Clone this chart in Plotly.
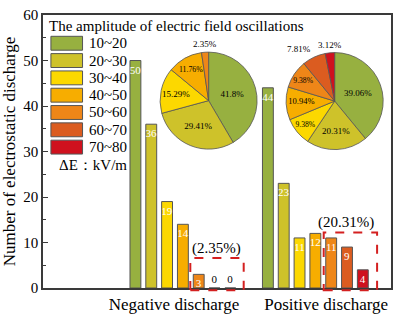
import math
import plotly.graph_objects as go

# ---- data -------------------------------------------------------------
ranges = ["10~20", "20~30", "30~40", "40~50", "50~60", "60~70", "70~80"]
colors = ["#97b040", "#cec22a", "#fcd800", "#f7ad00", "#ee8618", "#db5c20", "#cf111e"]
groups = ["Negative discharge", "Positive discharge"]
negative_counts = [50, 36, 19, 14, 3, 0, 0]
positive_counts = [44, 23, 11, 12, 11, 9, 4]

negative_share = [41.8, 29.41, 15.29, 11.76, 2.35]
positive_share = [39.06, 20.31, 9.38, 10.94, 9.38, 7.81, 3.12]
highlight_labels = ["(2.35%)", "(20.31%)"]

# ---- geometry helpers -------------------------------------------------
W, H = 400, 321
L, R, T, B = 41, 393, 7, 294
XR = [-1.056, 1.571]
YR = [0, 60]
FONT = "Liberation Serif, Times New Roman, serif"


def px_x(p):
    return (p - L) / (R - L)


def px_y(p):
    return (B - p) / (B - T)


def dx(x):
    return (x - XR[0]) / (XR[1] - XR[0])


def dy(y):
    return (y - YR[0]) / (YR[1] - YR[0])


fig = go.Figure()

# grouped bars, one trace per amplitude range
for i, name in enumerate(ranges):
    vals = [negative_counts[i], positive_counts[i]]
    fig.add_trace(go.Bar(
        x=[0, 1], y=vals, name=name,
        marker=dict(color=colors[i], line=dict(color="#555555", width=1)),
        text=[str(v) for v in vals],
        textposition=["inside" if v > 0 else "outside" for v in vals],
        insidetextanchor="end",
        textangle=0,
        constraintext="none",
        insidetextfont=dict(family=FONT, size=11, color="white"),
        outsidetextfont=dict(family=FONT, size=11, color="black"),
        cliponaxis=False,
        showlegend=False,
        hoverinfo="skip",
    ))

annotations = []


def add_pie(values, cx, cy, r, outside_from):
    """Pie in pixel-defined domain; small slices get plain labels outside."""
    n = len(values)
    total = sum(values)
    labels = [f"{v:g}%" for v in values]
    fig.add_trace(go.Pie(
        values=values,
        text=[lab if k < outside_from else "" for k, lab in enumerate(labels)],
        textinfo="text",
        textposition="inside",
        insidetextorientation="horizontal",
        textfont=dict(family=FONT, size=9, color="black"),
        marker=dict(colors=colors[:n], line=dict(color="#555555", width=0.8)),
        sort=False, direction="clockwise", rotation=0,
        domain=dict(x=[px_x(cx - r), px_x(cx + r)], y=[px_y(cy + r), px_y(cy - r)]),
        showlegend=False, hoverinfo="skip",
    ))
    cum = 0.0
    for k, v in enumerate(values):
        mid = (cum + v / 2) / total * 2 * math.pi
        cum += v
        if k < outside_from:
            continue
        s, c = math.sin(mid), math.cos(mid)
        px, py = cx + (r + 1) * s, cy - (r + 1) * c
        xa = "right" if s < -0.3 else ("left" if s > 0.3 else "center")
        ya = "bottom" if c > 0 else "top"
        annotations.append(dict(x=px_x(px), y=px_y(py), xref="paper", yref="paper",
                                text=labels[k], showarrow=False, xanchor=xa, yanchor=ya,
                                font=dict(family=FONT, size=9, color="black")))


add_pie(negative_share, 208.5, 97, 51, 4)
add_pie(positive_share, 336, 97.5, 51, 5)

shapes = []

# legend: title, colour swatches and unit note
annotations.append(dict(x=px_x(45), y=px_y(19), xref="paper", yref="paper",
                        text="The amplitude of electric field oscillations",
                        showarrow=False, xanchor="left", yanchor="middle",
                        font=dict(family=FONT, size=15, color="black")))
row0, step = 36.7, 18.2
for i, name in enumerate(ranges):
    yc = row0 + i * step
    shapes.append(dict(type="rect", xref="paper", yref="paper",
                       x0=px_x(49), x1=px_x(81), y0=px_y(yc + 7.3), y1=px_y(yc - 7.3),
                       fillcolor=colors[i], line=dict(color="#555555", width=1)))
    annotations.append(dict(x=px_x(86), y=px_y(yc), xref="paper", yref="paper",
                            text=name, showarrow=False, xanchor="left", yanchor="middle",
                            font=dict(family=FONT, size=15, color="black")))
annotations.append(dict(x=px_x(55), y=px_y(165), xref="paper", yref="paper",
                        text="ΔE：kV/m", showarrow=False, xanchor="left", yanchor="middle",
                        font=dict(family=FONT, size=15, color="black")))

# dashed boxes around the high-amplitude bars
boxes = [(0.056, 0.459, -0.5, 6.6), (1.063, 1.466, -0.5, 12.2)]
label_pos = [(0.257, 8.7), (1.235, 14.3)]
for (x0, x1, y0, y1), (lx, ly), lab in zip(boxes, label_pos, highlight_labels):
    shapes.append(dict(type="rect", xref="paper", yref="paper",
                       x0=dx(x0), x1=dx(x1), y0=dy(y0), y1=dy(y1),
                       line=dict(color="#d42020", width=2, dash="dash"),
                       fillcolor="rgba(0,0,0,0)", layer="above"))
    annotations.append(dict(x=dx(lx), y=dy(ly), xref="paper", yref="paper",
                            text=lab, showarrow=False, xanchor="center", yanchor="middle",
                            font=dict(family=FONT, size=15, color="black")))

fig.update_layout(
    width=W, height=H,
    margin=dict(l=L, r=W - R, t=T, b=H - B),
    paper_bgcolor="white", plot_bgcolor="white",
    barmode="group", bargap=0.164, bargroupgap=0.3125,
    shapes=shapes, annotations=annotations,
    font=dict(family=FONT, color="black"),
    xaxis=dict(range=XR, tickvals=[-0.067, 1.082], ticktext=groups,
               ticks="", showgrid=False, zeroline=False,
               showline=True, mirror=True, linecolor="#3a3a3a", linewidth=1.5,
               tickfont=dict(family=FONT, size=17, color="black")),
    yaxis=dict(range=YR, tickvals=[0, 10, 20, 30, 40, 50, 60],
               ticks="inside", ticklen=5, tickwidth=1.2, tickcolor="#3a3a3a",
               minor=dict(dtick=5, ticks="inside", ticklen=3, tickwidth=1, tickcolor="#3a3a3a"),
               showgrid=False, zeroline=False,
               showline=True, mirror=True, linecolor="#3a3a3a", linewidth=1.5,
               tickfont=dict(family=FONT, size=15, color="black"),
               title=dict(text="Number of electrostatic discharge", standoff=4,
                          font=dict(family=FONT, size=17, color="black"))),
)

fig.write_html("out.html")
